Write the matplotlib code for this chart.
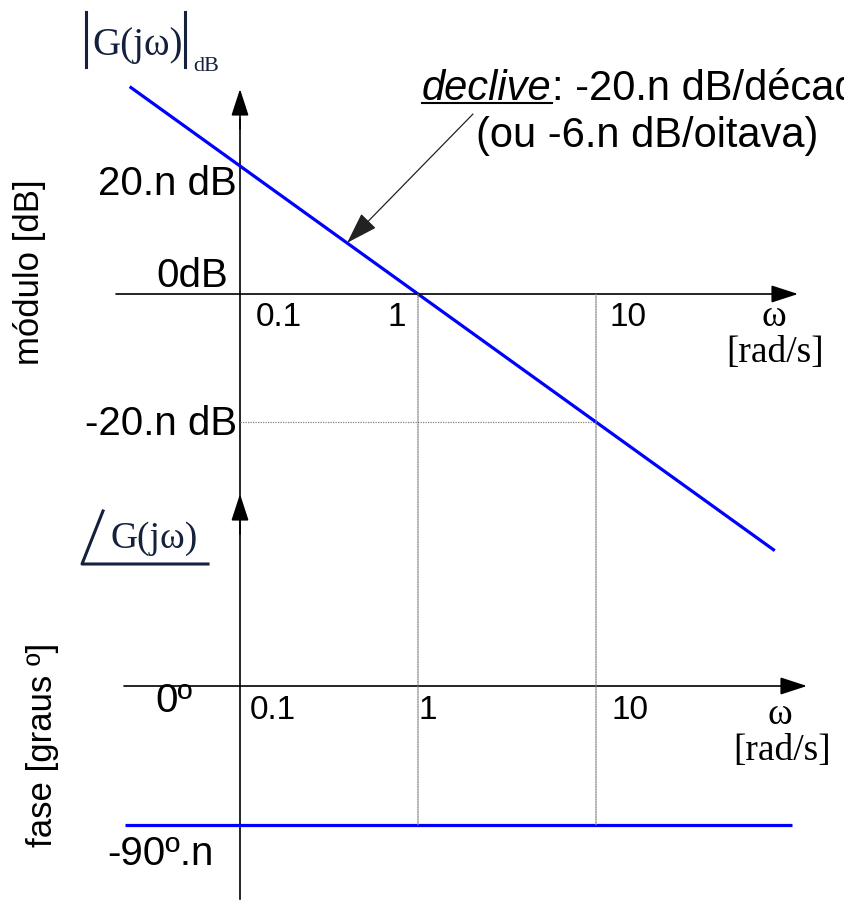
import numpy as np
import matplotlib
matplotlib.use('Agg')
import matplotlib.pyplot as plt
from matplotlib.patches import ConnectionPatch

# Data (asymptotic Bode plot of 1/(jw)^n, n = 1)
omega_mag = [0.024, 1.0, 101.0]
mag_db = [32.4, 0.0, -40.1]
omega_phase = [0.0226, 126.0]
phase_deg = [-90.0, -90.0]
omega_marks = [0.1, 1.0, 10.0]
db_marks = [20.0, 0.0, -20.0]
mark_labels = ['0.1', '1', '10']
ann_omega, ann_db = 0.4, 8.0

W, H = 844, 904
SANS = 'Liberation Sans'
SERIF = 'Liberation Serif'
INK = '#14213d'
BLUE = '#0000ff'
GRID = '#808080'

# layout in pixels: w=1 at x0, one decade = dec px; 0 dB at y0, 20 dB = h20 px
x0, dec = 418, 178
y0_m, h20 = 295, 128
y0_p, h90 = 687, 139

fig = plt.figure(figsize=(W / 100, H / 100), dpi=100)


def fx(x):
    return x / W


def fy(y):
    return 1 - y / H


ax_m = fig.add_axes([0, 0, 1, 1])
ax_p = fig.add_axes([0, 0, 1, 1])
for ax in (ax_m, ax_p):
    ax.set_xscale('log')
    ax.set_xlim(10 ** ((0 - x0) / dec), 10 ** ((W - x0) / dec))
    ax.axis('off')
    ax.patch.set_alpha(0)
ax_m.set_ylim((y0_m - H) * 20 / h20, y0_m * 20 / h20)
ax_p.set_ylim((y0_p - H) * 90 / h90, y0_p * 90 / h90)

head = dict(arrowstyle='-|>,head_length=1.66,head_width=0.54', mutation_scale=10,
            color='black', lw=1.2, shrinkA=0, shrinkB=0)


def arrow(ax, xy, xytext, trans):
    ax.annotate('', xy=xy, xytext=xytext, xycoords=trans, textcoords=trans,
                arrowprops=head)


# Axes lines with arrows
arrow(ax_m, (fx(798), 0), (fx(116), 0), ax_m.get_yaxis_transform())
arrow(ax_p, (fx(807), 0), (fx(124), 0), ax_p.get_yaxis_transform())
ax_m.plot([omega_marks[0]] * 2, [fy(900), fy(120)], color='black', lw=1.2,
          transform=ax_m.get_xaxis_transform())
arrow(ax_m, (omega_marks[0], fy(90)), (omega_marks[0], fy(130)), ax_m.get_xaxis_transform())
arrow(ax_p, (omega_marks[0], fy(495)), (omega_marks[0], fy(535)), ax_p.get_xaxis_transform())

# Dotted guides
ax_m.plot([omega_marks[0], omega_marks[2]], [db_marks[2]] * 2, color=GRID, lw=0.9, ls=(0, (1, 1)))
for w in omega_marks[1:]:
    con = ConnectionPatch(xyA=(w, 0), coordsA=ax_m.transData, xyB=(w, phase_deg[0]),
                          coordsB=ax_p.transData, color=GRID, lw=0.9, ls=(0, (1, 1)))
    fig.add_artist(con)

# Asymptotes
ax_m.plot(omega_mag, mag_db, color=BLUE, lw=2.3, solid_capstyle='butt')
ax_p.plot(omega_phase, phase_deg, color=BLUE, lw=2.3, solid_capstyle='butt')

# Magnitude labels
fig.text(fx(237), fy(184), '20.n dB', ha='right', va='center', family=SANS, fontsize=29)
fig.text(fx(228), fy(276), '0dB', ha='right', va='center', family=SANS, fontsize=29)
fig.text(fx(237), fy(424), '-20.n dB', ha='right', va='center', family=SANS, fontsize=29)
fig.text(fx(30), fy(272), 'módulo [dB]', rotation=90, ha='center', va='center',
         family=SANS, fontsize=25)

tick_pos = [(256, 'left'), (397, 'center'), (609, 'left')]
for (x, ha), lab in zip(tick_pos, mark_labels):
    fig.text(fx(x), fy(318), lab, ha=ha, va='center', family=SANS, fontsize=24)
fig.text(fx(774), fy(317), 'ω', ha='center', va='center', family=SERIF, fontsize=27)
fig.text(fx(775), fy(353), '[rad/s]', ha='center', va='center', family=SERIF, fontsize=27)

# Phase labels
tick_pos_p = [(250, 'left'), (428, 'center'), (611, 'left')]
for (x, ha), lab in zip(tick_pos_p, mark_labels):
    fig.text(fx(x), fy(711), lab, ha=ha, va='center', family=SANS, fontsize=24)
fig.text(fx(780), fy(715), 'ω', ha='center', va='center', family=SERIF, fontsize=27)
fig.text(fx(782), fy(751), '[rad/s]', ha='center', va='center', family=SERIF, fontsize=27)
fig.text(fx(174), fy(701), '0º', ha='center', va='center', family=SANS, fontsize=29)
fig.text(fx(160), fy(854), '-90º.n', ha='center', va='center', family=SANS, fontsize=29)
fig.text(fx(43), fy(745), 'fase [graus º]', rotation=90, ha='center', va='center',
         family=SANS, fontsize=25)

# |G(jw)|dB title
fig.text(fx(92), fy(55), 'G(jω)', ha='left', va='baseline', family=SERIF, fontsize=28, color=INK)
fig.text(fx(193), fy(71), 'dB', ha='left', va='baseline', family=SERIF, fontsize=16, color=INK)
for x in (86, 185):
    fig.add_artist(plt.Line2D([fx(x), fx(x)], [fy(13), fy(68)], color=INK, lw=2.2))

# angle G(jw) title
fig.add_artist(plt.Line2D([fx(103), fx(82), fx(208)], [fy(512), fy(565), fy(565)],
                          color=INK, lw=2.2))
fig.text(fx(110), fy(548), 'G(jω)', ha='left', va='baseline', family=SERIF, fontsize=27, color=INK)

# slope annotation
ax_m.annotate('', xy=(ann_omega, ann_db), xytext=(473, H - 115), textcoords='figure pixels',
              arrowprops=dict(arrowstyle='-|>,head_length=2.0,head_width=0.65', mutation_scale=10,
                              color='#222222', lw=0.9, shrinkA=0, shrinkB=0))
t1 = fig.text(fx(422), fy(100), 'declive', ha='left', va='baseline', family=SANS,
              style='italic', fontsize=30)
fig.canvas.draw()
bb = t1.get_window_extent()
fig.text(bb.x1 / W, fy(100), ': -20.n dB/década', ha='left', va='baseline', family=SANS,
         fontsize=30)
fig.add_artist(plt.Line2D([bb.x0 / W, bb.x1 / W], [fy(104)] * 2, color='black', lw=1.5))
fig.text(fx(476), fy(147), '(ou -6.n dB/oitava)', ha='left', va='baseline', family=SANS,
         fontsize=30)

fig.savefig('out.png', dpi=100, facecolor='white')
